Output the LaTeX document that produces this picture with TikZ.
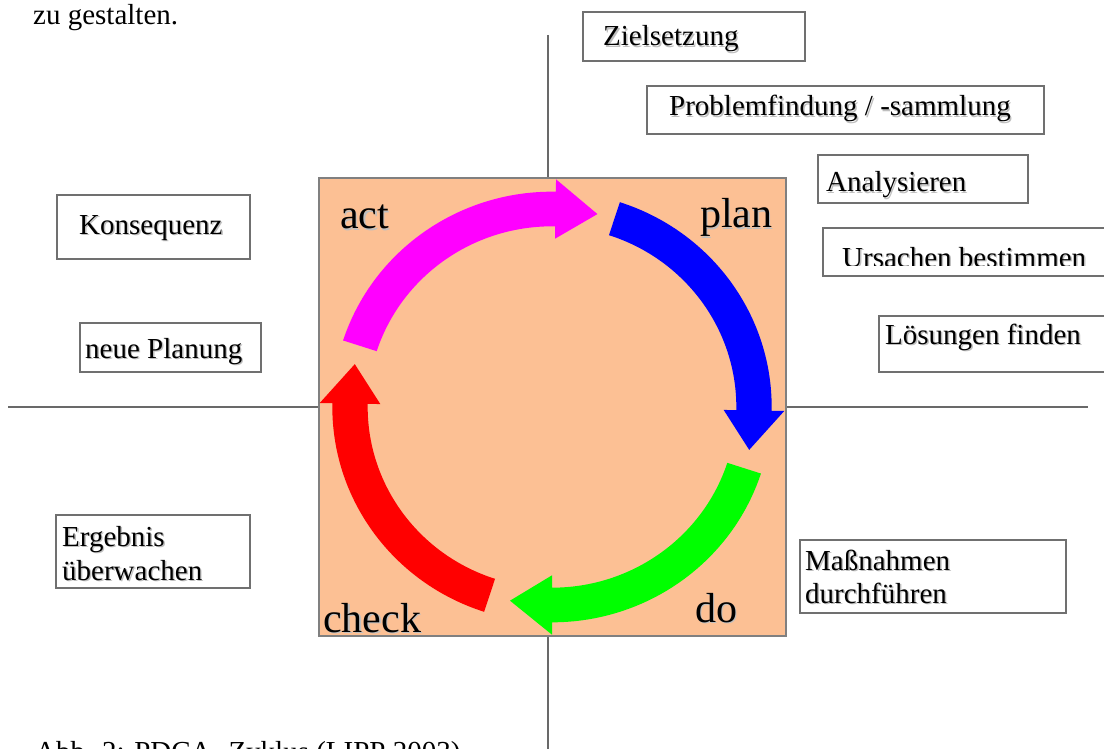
\documentclass[tikz,border=0pt]{standalone}
\usepackage{fontspec}
\setmainfont{Liberation Serif}
\definecolor{peach}{RGB}{252,192,148}
\definecolor{boxgray}{RGB}{112,112,112}
\definecolor{axisgray}{RGB}{105,105,105}
\definecolor{framegray}{RGB}{128,128,128}
\definecolor{pgreen}{RGB}{0,255,0}
\definecolor{pmagenta}{RGB}{255,0,255}
\newcommand{\shnode}[4]{%
  \node[#1, text=black!25, xshift=1.4pt, yshift=-1.4pt] (#2-sh) at #3 {#4};
  \node[#1] (#2) at #3 {#4};}
\tikzset{
  lbl/.style={inner sep=0pt, anchor=base west, font=\fontsize{29}{34}\selectfont},
  big/.style={inner sep=0pt, anchor=base west, font=\fontsize{42}{48}\selectfont},
  tbox/.style={draw=boxgray, line width=2pt, fill=white},
  axis/.style={draw=axisgray, line width=2.2pt},
  frame/.style={draw=framegray, line width=1.5pt, fill=peach},
}
\begin{document}
\begin{tikzpicture}[x=1pt,y=-1pt]
\useasboundingbox (0,0) rectangle (1104,749);
% axes
\coordinate (vtop) at (548,35);
\coordinate (vbot) at (548,760);
\coordinate (hl) at (8,407);
\coordinate (hr) at (1088,407);
\draw[axis] (vtop) -- (vbot);
\draw[axis] (hl) -- (hr);
% central box
\draw[frame] (319,178) rectangle (786,636);
% arrows
\begin{scope}[shift={(552,407)}, xscale=1.01, yscale=-0.99]
  \fill[blue] (72:217.5) arc[start angle=72, end angle=-1, radius=217.5]
    -- (-1:230) -- (-12.5:200) -- (-1:170) -- (-1:182.5)
    arc[start angle=-1, end angle=72, radius=182.5] -- cycle;
  \fill[pgreen] (-18:217.5) arc[start angle=-18, end angle=-90, radius=217.5]
    -- (-90:230) -- (-102:200) -- (-90:170) -- (-90:182.5)
    arc[start angle=-90, end angle=-18, radius=182.5] -- cycle;
  \fill[red] (-108:217.5) arc[start angle=-108, end angle=-181, radius=217.5]
    -- (-181:230) -- (-192.5:200) -- (-181:170) -- (-181:182.5)
    arc[start angle=-181, end angle=-108, radius=182.5] -- cycle;
  \fill[pmagenta] (162:217.5) arc[start angle=162, end angle=89, radius=217.5]
    -- (89:230) -- (77:200) -- (89:170) -- (89:182.5)
    arc[start angle=89, end angle=162, radius=182.5] -- cycle;
\end{scope}
% cycle labels
\shnode{big}{act}{(340,229)}{act}
\shnode{big}{plan}{(700,228)}{plan}
\shnode{big}{check}{(323,632)}{check}
\shnode{big}{do}{(695,622)}{do}
% body text
\node[lbl] (top) at (33,25) {zu gestalten.};
\node[lbl] (caption) at (35,761) {Abb. 2: PDCA- Zyklus (LIPP 2003)};
% right boxes
\draw[tbox] (583,12) rectangle (805,61);
\shnode{lbl}{ziel}{(603,46)}{Zielsetzung}
\draw[tbox] (647,86) rectangle (1044,134);
\shnode{lbl}{prob}{(669,116)}{Problemfindung / -sammlung}
\draw[tbox] (818,155) rectangle (1028,203);
\shnode{lbl}{anal}{(826,192)}{Analysieren}
\draw[tbox] (823,228) rectangle (1115,276);
\begin{scope}
  \clip (823,228) rectangle (1115,265);
  \shnode{lbl}{urs}{(842,267.5)}{Ursachen bestimmen}
\end{scope}
\draw[tbox] (879,316) rectangle (1115,372);
\shnode{lbl}{loes}{(885,344)}{Lösungen finden}
\draw[tbox] (800,540) rectangle (1066,613);
\shnode{lbl}{mass}{(805,570)}{Maßnahmen}
\shnode{lbl}{durch}{(805,603)}{durchführen}
% left boxes
\draw[tbox] (57,195) rectangle (250,259);
\shnode{lbl}{kons}{(79,234)}{Konsequenz}
\draw[tbox] (80,323) rectangle (261,372);
\shnode{lbl}{neue}{(85,358)}{neue Planung}
\draw[tbox] (56,515) rectangle (250,588);
\shnode{lbl}{erg}{(62,546)}{Ergebnis}
\shnode{lbl}{ueber}{(62,580)}{überwachen}
\end{tikzpicture}
\end{document}
